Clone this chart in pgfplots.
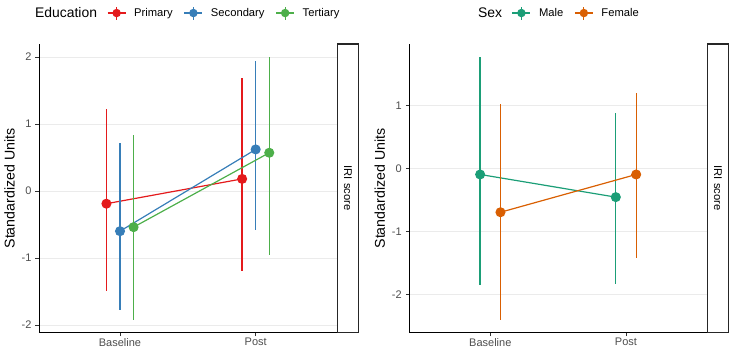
\documentclass[border=0pt]{standalone}
\usepackage{pgfplots}
\usepackage{pgfplotstable}
\usepackage{fontspec}
\setmainfont{Liberation Sans}
\pgfplotsset{compat=1.18}

\definecolor{cPrim}{HTML}{E41A1C}
\definecolor{cSec}{HTML}{377EB8}
\definecolor{cTer}{HTML}{4DAF4A}
\definecolor{cMale}{HTML}{1B9E77}
\definecolor{cFem}{HTML}{D95F02}
\definecolor{gridc}{HTML}{EBEBEB}
\definecolor{ticktext}{HTML}{4D4D4D}

% estimate, lower and upper limit; x is dodged around Baseline = 1, Post = 2
\pgfplotstableread{
x    y      lo     hi
0.9  -0.19  -1.49  1.23
1.9   0.18  -1.20  1.68
}\primary
\pgfplotstableread{
x    y      lo     hi
1.0  -0.60  -1.78  0.72
2.0   0.62  -0.58  1.94
}\secondary
\pgfplotstableread{
x    y      lo     hi
1.1  -0.54  -1.92  0.84
2.1   0.57  -0.95  2.00
}\tertiary
\pgfplotstableread{
x      y      lo     hi
0.925  -0.09  -1.84  1.77
1.925  -0.45  -1.83  0.88
}\male
\pgfplotstableread{
x      y      lo     hi
1.075  -0.69  -2.40  1.03
2.075  -0.09  -1.41  1.20
}\female

\pgfplotsset{
  panel/.style={
    scale only axis,
    width=297.7pt, height=288.5pt,
    anchor=south west,
    xmin=0.403, xmax=2.597,
    axis lines=left,
    axis line style={-, black, line width=0.8pt},
    tick align=outside,
    major tick length=3.5pt,
    tick style={black!80, line width=0.8pt},
    xtick={1,2}, xticklabels={Baseline,Post},
    ymajorgrids,
    grid style={gridc, line width=0.8pt},
    ticklabel style={font=\fontsize{11}{12}\selectfont, text=ticktext},
    /pgf/number format/assume math mode=true,
    xticklabel style={yshift=1.5pt},
    yticklabel style={xshift=-0.5pt},
    ylabel={Standardized Units},
    every axis y label/.style={at={(ticklabel cs:0.5)}, rotate=90,
      anchor=south, font=\fontsize{14.2}{16}\selectfont},
    clip=false,
    legend columns=-1,
    legend style={draw=none, fill=none, inner sep=0pt, outer sep=0pt,
      anchor=west, font=\fontsize{11.2}{12}\selectfont,
      nodes={inner sep=0pt, anchor=west},
      /tikz/every odd column/.append style={column sep=8pt},
      /tikz/every even column/.append style={column sep=11pt}},
    legend image code/.code={
      \draw[##1, line width=1.2pt] (0pt,0pt) -- (18pt,0pt);
      \draw[##1, line width=1.2pt] (9pt,-6.5pt) -- (9pt,6.5pt);
      \fill[##1] (9pt,0pt) circle (3.6pt);
    },
  },
  series/.style={
    color=#1, line width=1.2pt, mark=*, mark size=4.4pt,
    mark options={solid},
    error bars/.cd, y dir=both, y explicit, error mark=none,
    error bar style={line width=1.3pt, #1},
  },
}

\begin{document}
\begin{tikzpicture}
\useasboundingbox (0,0) rectangle (732pt,349pt);

% Education panel
\begin{axis}[panel, at={(39pt,16.3pt)},
    ymin=-2.115, ymax=2.19,
    ytick={-2,-1,0,1,2}, yticklabels={-2,-1,0,1,2},
    legend style={at={(0.2285,1.108)}}]
  \addplot[series=cPrim] table[x=x, y=y,
      y error plus expr=\thisrow{hi}-\thisrow{y},
      y error minus expr=\thisrow{y}-\thisrow{lo}] {\primary};
  \addlegendentry{Primary}
  \addplot[series=cSec] table[x=x, y=y,
      y error plus expr=\thisrow{hi}-\thisrow{y},
      y error minus expr=\thisrow{y}-\thisrow{lo}] {\secondary};
  \addlegendentry{Secondary}
  \addplot[series=cTer] table[x=x, y=y,
      y error plus expr=\thisrow{hi}-\thisrow{y},
      y error minus expr=\thisrow{y}-\thisrow{lo}] {\tertiary};
  \addlegendentry{Tertiary}
\end{axis}
\node[anchor=west, inner sep=0pt, font=\fontsize{13.9}{15}\selectfont] at (35pt,336pt) {Education};
\draw[black!85, line width=1.1pt, fill=white] (337.3pt,16.6pt) rectangle (358.7pt,305pt);
\node[rotate=-90, inner sep=0pt, font=\fontsize{11.2}{12}\selectfont] at (348pt,160.8pt) {IRI score};

% Sex panel
\begin{axis}[panel, at={(409.3pt,16.3pt)},
    ymin=-2.603, ymax=1.979,
    ytick={-2,-1,0,1}, yticklabels={-2,-1,0,1},
    legend style={at={(0.3443,1.108)}}]
  \addplot[series=cMale] table[x=x, y=y,
      y error plus expr=\thisrow{hi}-\thisrow{y},
      y error minus expr=\thisrow{y}-\thisrow{lo}] {\male};
  \addlegendentry{Male}
  \addplot[series=cFem] table[x=x, y=y,
      y error plus expr=\thisrow{hi}-\thisrow{y},
      y error minus expr=\thisrow{y}-\thisrow{lo}] {\female};
  \addlegendentry{Female}
\end{axis}
\node[anchor=west, inner sep=0pt, font=\fontsize{13.9}{15}\selectfont] at (478pt,336pt) {Sex};
\draw[black!85, line width=1.1pt, fill=white] (707.3pt,16.6pt) rectangle (728.3pt,305pt);
\node[rotate=-90, inner sep=0pt, font=\fontsize{11.2}{12}\selectfont] at (717.8pt,160.8pt) {IRI score};
\end{tikzpicture}
\end{document}
